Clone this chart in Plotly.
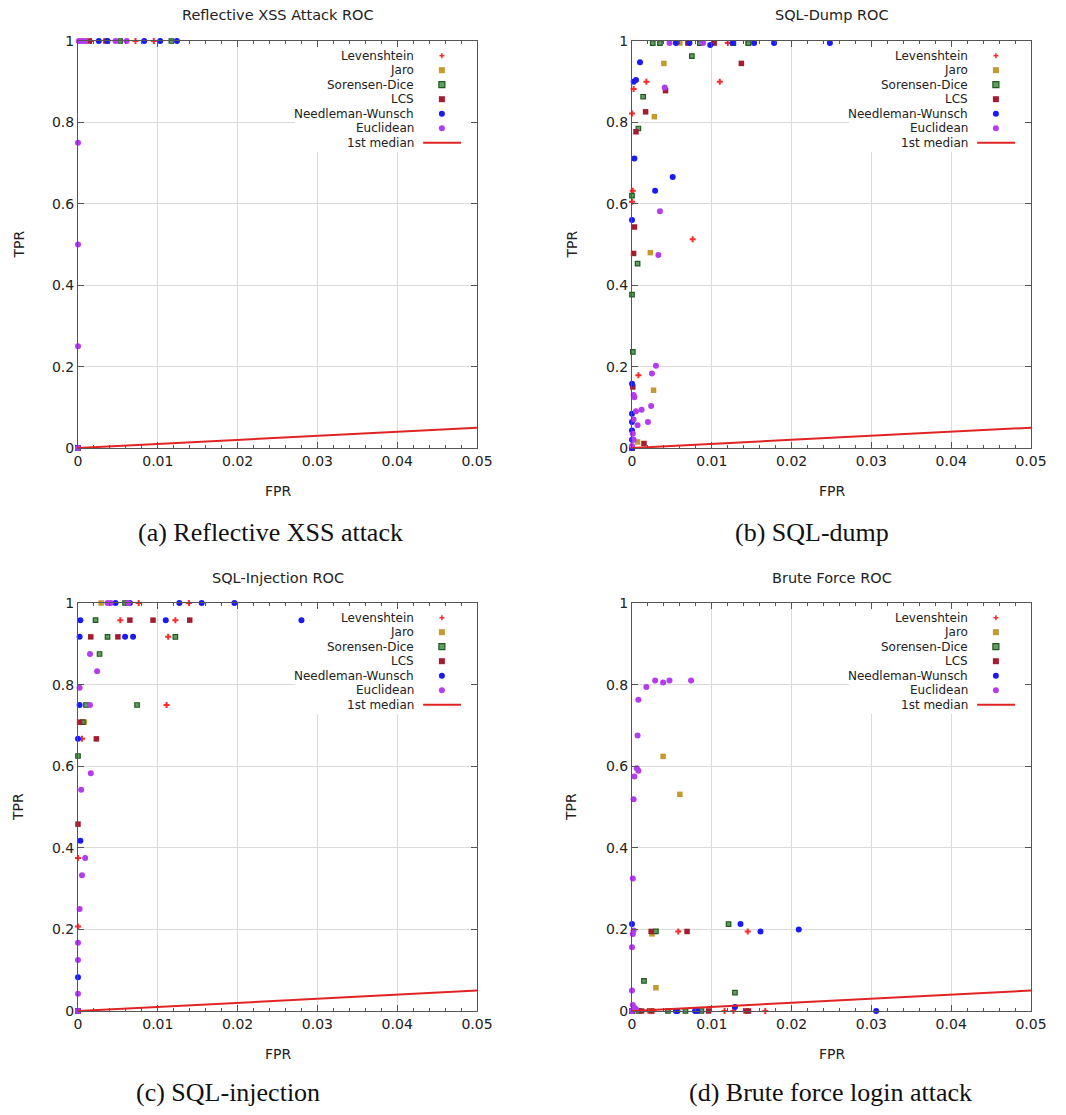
import plotly.graph_objects as go

# ---------------- data ----------------
METHODS = ["Levenshtein", "Jaro", "Sorensen-Dice", "LCS", "Needleman-Wunsch", "Euclidean"]
PANEL_TITLES = ["Reflective XSS Attack ROC", "SQL-Dump ROC", "SQL-Injection ROC", "Brute Force ROC"]
CAPTIONS = ["(a) Reflective XSS attack", "(b) SQL-dump", "(c) SQL-injection", "(d) Brute force login attack"]
X_TITLE = "FPR"
Y_TITLE = "TPR"
MEDIAN_LABEL = "1st median"
MEDIAN_FPR = [0.0, 0.05]
MEDIAN_TPR = [0.0, 0.05]
X_TICKS = [0, 0.01, 0.02, 0.03, 0.04, 0.05]
X_TICK_LABELS = ["0", "0.01", "0.02", "0.03", "0.04", "0.05"]
Y_TICKS = [0, 0.2, 0.4, 0.6, 0.8, 1.0]
Y_TICK_LABELS = ["0", "0.2", "0.4", "0.6", "0.8", "1"]

# (a) Reflective XSS
XSS_LEV_FPR = [0, 0.0016, 0.0072, 0.0095]
XSS_LEV_TPR = [0, 1, 1, 1]
XSS_JARO_FPR = [0, 0.0004]
XSS_JARO_TPR = [0, 1]
XSS_SD_FPR = [0, 0.0053, 0.0117]
XSS_SD_TPR = [0, 1, 1]
XSS_LCS_FPR = [0, 0.0014, 0.0035]
XSS_LCS_TPR = [0, 1, 1]
XSS_NW_FPR = [0, 0.0026, 0.0037, 0.0083, 0.0103, 0.0124]
XSS_NW_TPR = [0, 1, 1, 1, 1, 1]
XSS_EUC_FPR = [0, 0, 0, 0, 0.0001, 0.0005, 0.0009, 0.0047, 0.0061]
XSS_EUC_TPR = [0, 0.25, 0.5, 0.75, 1, 1, 1, 1, 1]

# (b) SQL-dump
DUMP_LEV_FPR = [0, 0.012, 0.0018, 0.011, 0.0002, 0, 0.0001, 0, 0.0076, 0.0008]
DUMP_LEV_TPR = [0, 0.995, 0.90, 0.90, 0.882, 0.822, 0.632, 0.605, 0.513, 0.179]
DUMP_JARO_FPR = [0, 0.006, 0.0145, 0.004, 0.0028, 0.0023, 0.0027, 0.0007]
DUMP_JARO_TPR = [0, 0.995, 0.995, 0.945, 0.814, 0.48, 0.142, 0.015]
DUMP_SD_FPR = [0, 0.0026, 0.0035, 0.0085, 0.0127, 0.0146, 0.0075, 0.0014, 0.0008, 0, 0.0007, 0, 0.0001]
DUMP_SD_TPR = [0, 0.995, 0.995, 0.995, 0.995, 0.995, 0.963, 0.863, 0.785, 0.62, 0.453, 0.377, 0.236]
DUMP_LCS_FPR = [0, 0.007, 0.0103, 0.0137, 0.0042, 0.0017, 0.0005, 0.0003, 0.0002, 0.0001, 0.0015]
DUMP_LCS_TPR = [0, 0.995, 0.995, 0.945, 0.878, 0.826, 0.777, 0.543, 0.478, 0.15, 0.011]
DUMP_NW_FPR = [0, 0.0055, 0.0072, 0.0098, 0.0126, 0.0153, 0.0178, 0.0248, 0.001, 0.0002, 0.0005,
               0.0003, 0.0051, 0.0029, 0, 0, 0, 0, 0, 0]
DUMP_NW_TPR = [0, 0.995, 0.995, 0.99, 0.995, 0.995, 0.995, 0.995, 0.948, 0.90, 0.904,
               0.711, 0.666, 0.632, 0.56, 0.158, 0.084, 0.064, 0.043, 0.02]
DUMP_EUC_FPR = [0, 0.0047, 0.0089, 0.0041, 0.0035, 0.0033, 0.003, 0.0025, 0.0002, 0.0003, 0.0024,
                0.0012, 0.0005, 0.0002, 0.002, 0.0007, 0.0001, 0.0002]
DUMP_EUC_TPR = [0.005, 0.995, 0.995, 0.886, 0.582, 0.474, 0.202, 0.183, 0.13, 0.125, 0.103,
                0.094, 0.09, 0.07, 0.064, 0.056, 0.035, 0.02]

# (c) SQL-injection
INJ_LEV_FPR = [0, 0.0076, 0.0139, 0.0053, 0.0122, 0.0113, 0.0111, 0.0005, 0, 0]
INJ_LEV_TPR = [0, 1, 1, 0.958, 0.958, 0.917, 0.75, 0.667, 0.375, 0.207]
INJ_JARO_FPR = [0, 0.0029, 0.0008]
INJ_JARO_TPR = [0, 1, 0.708]
INJ_SD_FPR = [0, 0.0059, 0.0022, 0.0037, 0.0122, 0.0027, 0.001, 0.0074, 0.0006, 0]
INJ_SD_TPR = [0, 1, 0.958, 0.917, 0.917, 0.875, 0.75, 0.75, 0.708, 0.625]
INJ_LCS_FPR = [0, 0.0065, 0.0094, 0.014, 0.0016, 0.005, 0.0002, 0.0023, 0]
INJ_LCS_TPR = [0, 0.958, 0.958, 0.958, 0.917, 0.917, 0.708, 0.667, 0.458]
INJ_NW_FPR = [0, 0.0047, 0.0065, 0.0127, 0.0155, 0.0196, 0.0003, 0.011, 0.028, 0.0002, 0.0059,
              0.0069, 0.0002, 0, 0.0003, 0]
INJ_NW_TPR = [0, 1, 1, 1, 1, 1, 0.958, 0.958, 0.958, 0.917, 0.917,
              0.917, 0.75, 0.667, 0.417, 0.083]
INJ_EUC_FPR = [0, 0.0037, 0.0041, 0.0063, 0.0015, 0.0024, 0.0002, 0.0015, 0.0016, 0.0004, 0.0009,
               0.0005, 0.0002, 0, 0, 0]
INJ_EUC_TPR = [0, 1, 1, 1, 0.875, 0.833, 0.792, 0.75, 0.583, 0.542, 0.375,
               0.333, 0.25, 0.167, 0.125, 0.042]

# (d) Brute force
BF_LEV_FPR = [0, 0.0058, 0.0145, 0.0027, 0.0116, 0.0127, 0.0167]
BF_LEV_TPR = [0, 0.195, 0.195, 0, 0, 0, 0]
BF_JARO_FPR = [0, 0.0039, 0.006, 0.0025, 0.003, 0.0022]
BF_JARO_TPR = [0, 0.624, 0.531, 0.189, 0.057, 0]
BF_SD_FPR = [0, 0.0015, 0.003, 0.0121, 0.0129, 0.0045, 0.0067, 0.0087, 0.0008]
BF_SD_TPR = [0, 0.074, 0.195, 0.213, 0.045, 0, 0, 0, 0]
BF_LCS_FPR = [0, 0.0024, 0.0069, 0.0012, 0.0024, 0.0096, 0.0143, 0.0146]
BF_LCS_TPR = [0, 0.195, 0.195, 0, 0, 0, 0, 0]
BF_NW_FPR = [0, 0, 0.0136, 0.0161, 0.0209, 0.0306, 0.0129, 0.0057, 0.0079, 0.0082, 0.0055]
BF_NW_TPR = [0, 0.213, 0.213, 0.195, 0.2, 0, 0.01, 0, 0, 0, 0]
BF_EUC_FPR = [0, 0.0018, 0.0029, 0.0039, 0.0047, 0.0074, 0.0008, 0.0007, 0.0006, 0.0008, 0.0003,
              0.0002, 0.0001, 0.0002, 0.0001, 0, 0, 0.0001, 0.0003, 0.0005]
BF_EUC_TPR = [0, 0.794, 0.81, 0.805, 0.81, 0.81, 0.763, 0.675, 0.595, 0.589, 0.575,
              0.519, 0.325, 0.197, 0.189, 0.156, 0.05, 0.015, 0.008, 0.004]

PANELS = [
    [(XSS_LEV_FPR, XSS_LEV_TPR), (XSS_JARO_FPR, XSS_JARO_TPR), (XSS_SD_FPR, XSS_SD_TPR),
     (XSS_LCS_FPR, XSS_LCS_TPR), (XSS_NW_FPR, XSS_NW_TPR), (XSS_EUC_FPR, XSS_EUC_TPR)],
    [(DUMP_LEV_FPR, DUMP_LEV_TPR), (DUMP_JARO_FPR, DUMP_JARO_TPR), (DUMP_SD_FPR, DUMP_SD_TPR),
     (DUMP_LCS_FPR, DUMP_LCS_TPR), (DUMP_NW_FPR, DUMP_NW_TPR), (DUMP_EUC_FPR, DUMP_EUC_TPR)],
    [(INJ_LEV_FPR, INJ_LEV_TPR), (INJ_JARO_FPR, INJ_JARO_TPR), (INJ_SD_FPR, INJ_SD_TPR),
     (INJ_LCS_FPR, INJ_LCS_TPR), (INJ_NW_FPR, INJ_NW_TPR), (INJ_EUC_FPR, INJ_EUC_TPR)],
    [(BF_LEV_FPR, BF_LEV_TPR), (BF_JARO_FPR, BF_JARO_TPR), (BF_SD_FPR, BF_SD_TPR),
     (BF_LCS_FPR, BF_LCS_TPR), (BF_NW_FPR, BF_NW_TPR), (BF_EUC_FPR, BF_EUC_TPR)],
]

# ---------------- styles ----------------
W, H = 1066, 1115
FONT = "DejaVu Sans"
SERIF = "Liberation Serif"
TXT = "#222222"
AXC = "#555555"
GRID = "#dadada"
MED_COLOR = "#e02424"

STYLES = [
    dict(symbol="cross", color="#ff2a2a", size=5, line=dict(width=0)),
    dict(symbol="square", color="#c39a2e", size=5.5, line=dict(width=0)),
    dict(symbol="square", color="#62a062", size=4.5, line=dict(width=1.2, color="#1f5a1f")),
    dict(symbol="square", color="#a51c30", size=5.5, line=dict(width=0)),
    dict(symbol="circle", color="#1a1af5", size=6, line=dict(width=0)),
    dict(symbol="circle", color="#b43cf0", size=6, line=dict(width=0)),
]

# plot areas in pixels (left, right, top, bottom)
BOXES = [(78, 477, 41, 448), (632, 1031, 41, 448), (78, 477, 603, 1011), (632, 1031, 603, 1011)]
TITLE_Y = [15, 15, 578, 578]
YTITLE_X = [18, 571, 18, 571]
XTITLE_Y = [491, 491, 1054, 1054]
CAPTION_POS = [(270, 532), (812, 532), (228, 1092), (830, 1092)]

fig = go.Figure()
layout = dict(
    width=W, height=H, margin=dict(l=0, r=0, t=0, b=0, autoexpand=False),
    paper_bgcolor="white", plot_bgcolor="white", showlegend=False,
    font=dict(family=FONT, size=14, color=TXT),
)
annotations = []
shapes = []

for p, (l, r, t, b) in enumerate(BOXES):
    k = "" if p == 0 else str(p + 1)
    xa, ya = "x" + k, "y" + k
    for m, (fpr, tpr) in enumerate(PANELS[p]):
        fig.add_trace(go.Scatter(x=fpr, y=tpr, mode="markers", name=METHODS[m],
                                 marker=STYLES[m], cliponaxis=False, xaxis=xa, yaxis=ya))
    fig.add_trace(go.Scatter(x=MEDIAN_FPR, y=MEDIAN_TPR, mode="lines", name=MEDIAN_LABEL,
                             line=dict(color=MED_COLOR, width=2), xaxis=xa, yaxis=ya))

    common = dict(showline=True, linecolor=AXC, linewidth=1, mirror="ticks", automargin=False,
                  ticks="inside", tickcolor=AXC, ticklen=6, showgrid=True, gridcolor=GRID,
                  gridwidth=1, zeroline=False, tickfont=dict(family=FONT, size=14, color=TXT))
    layout["xaxis" + k] = dict(
        common, domain=[l / W, r / W], anchor=ya, range=[0, 0.05],
        tickvals=X_TICKS, ticktext=X_TICK_LABELS,
        minor=dict(dtick=0.002, tick0=0, ticks="inside", ticklen=3, tickcolor=AXC, showgrid=False),
    )
    layout["yaxis" + k] = dict(
        common, domain=[1 - b / H, 1 - t / H], anchor=xa, range=[0, 1],
        tickvals=Y_TICKS, ticktext=Y_TICK_LABELS,
    )

    # axis titles
    annotations.append(dict(text=X_TITLE, xref="paper", yref="paper",
                            x=(l + r) / 2 / W, y=1 - XTITLE_Y[p] / H, showarrow=False,
                            xanchor="center", yanchor="middle",
                            font=dict(family=FONT, size=14, color=TXT)))
    annotations.append(dict(text=Y_TITLE, xref="paper", yref="paper", textangle=-90,
                            x=YTITLE_X[p] / W, y=1 - (t + b) / 2 / H, showarrow=False,
                            xanchor="center", yanchor="middle",
                            font=dict(family=FONT, size=14, color=TXT)))
    # panel title
    annotations.append(dict(text=PANEL_TITLES[p], xref="paper", yref="paper",
                            x=(l + r) / 2 / W, y=1 - TITLE_Y[p] / H, showarrow=False,
                            xanchor="center", yanchor="middle",
                            font=dict(family=FONT, size=14.5, color=TXT)))
    # caption
    cx, cy = CAPTION_POS[p]
    annotations.append(dict(text=CAPTIONS[p], xref="paper", yref="paper",
                            x=cx / W, y=1 - cy / H, showarrow=False,
                            xanchor="center", yanchor="middle",
                            font=dict(family=SERIF, size=26, color="#111111")))

    # key (legend) inside the plot, gnuplot style
    xd, yd = xa + " domain", ya + " domain"
    ph = b - t
    # white key box hiding the grid lines (drawn between grid and data)
    shapes.append(dict(type="rect", xref=xa, yref=ya, x0=0.0272, x1=0.05, y0=0.728, y1=1.0,
                       fillcolor="white", line=dict(width=0), layer="between"))
    labels = METHODS + [MEDIAN_LABEL]
    for i, lab in enumerate(labels):
        yy = 1 - (14.7 + i * 14.5) / ph
        annotations.append(dict(text=lab, xref=xd, yref=yd, x=0.846, y=yy, showarrow=False,
                                xanchor="right", yanchor="middle",
                                font=dict(family=FONT, size=12, color=TXT)))
        sx = 0.912
        if i == 6:
            shapes.append(dict(type="line", xref=xd, yref=yd, x0=0.865, x1=0.96, y0=yy, y1=yy,
                               line=dict(color=MED_COLOR, width=2)))
            continue
        st = STYLES[i]
        base = dict(xref=xd, yref=yd, xsizemode="pixel", ysizemode="pixel",
                    xanchor=sx, yanchor=yy)
        if st["symbol"] == "cross":
            shapes.append(dict(base, type="line", x0=-2.5, x1=2.5, y0=0, y1=0,
                               line=dict(color=st["color"], width=1.5)))
            shapes.append(dict(base, type="line", x0=0, x1=0, y0=-2.5, y1=2.5,
                               line=dict(color=st["color"], width=1.5)))
        else:
            lw = st["line"].get("width", 0)
            shapes.append(dict(base, type="circle" if st["symbol"] == "circle" else "rect",
                               x0=-3, x1=3, y0=-3, y1=3, fillcolor=st["color"],
                               line=dict(width=lw, color=st["line"].get("color", st["color"]))))

layout["annotations"] = annotations
layout["shapes"] = shapes
fig.update_layout(**layout)
fig.write_html("out.html")
